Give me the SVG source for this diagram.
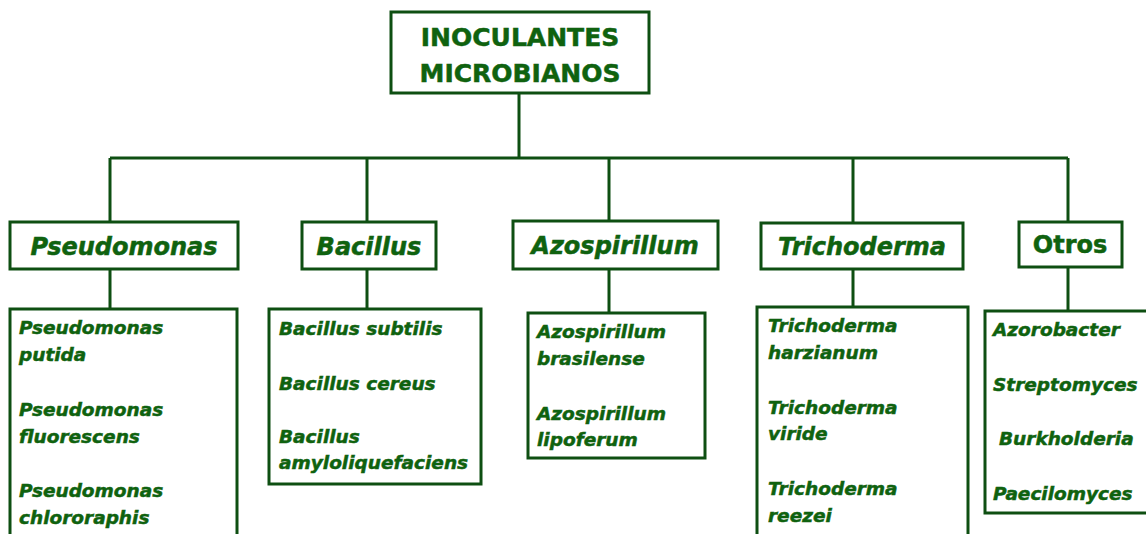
<svg xmlns="http://www.w3.org/2000/svg" width="1146" height="534" viewBox="0 0 1146 534">
<style>
.box{fill:#fff;stroke:#0e4f12;stroke-width:3}
.ln{fill:none;stroke:#0e4f12;stroke-width:3}
.t{font-family:"DejaVu Sans",sans-serif;font-weight:bold;fill:#0f620f;stroke:#0f620f;stroke-width:0.5}
.title{font-size:25px;text-anchor:middle}
.h{font-size:24px;font-style:italic;text-anchor:middle}
.i{font-size:18.5px;font-style:italic}
</style>
<rect width="1146" height="534" fill="#fff"/>
<g id="connectors">
<path class="ln" d="M519 93V158M110 158H1068M110 158V222M367 158V222M609 158V222M853 158V222M1068 158V222"/>
<path class="ln" d="M110 269V309M367 269V309M609 269V313M853 269V307M1068 267V311"/>
</g>
<g id="root">
<rect class="box" x="391" y="12" width="258" height="81"/>
<text class="t title" x="520" y="46">INOCULANTES</text>
<text class="t title" x="520" y="82">MICROBIANOS</text>
</g>
<g id="pseudomonas">
<rect class="box" x="10" y="222" width="228" height="47"/>
<text class="t h" x="124" y="255">Pseudomonas</text>
</g>
<g id="bacillus">
<rect class="box" x="302" y="222" width="134" height="47"/>
<text class="t h" x="369" y="255">Bacillus</text>
</g>
<g id="azospirillum">
<rect class="box" x="513" y="221" width="205" height="48"/>
<text class="t h" x="615" y="254">Azospirillum</text>
</g>
<g id="trichoderma">
<rect class="box" x="761" y="223" width="202" height="46"/>
<text class="t h" x="862" y="255">Trichoderma</text>
</g>
<g id="otros">
<rect class="box" x="1019" y="222" width="103" height="45"/>
<text class="t h" x="1070" y="253" style="font-style:normal">Otros</text>
</g>
<g id="pseudomonas-list">
<rect class="box" x="10" y="309" width="227" height="240"/>
<text class="t i" x="19" y="334">Pseudomonas</text>
<text class="t i" x="19" y="361">putida</text>
<text class="t i" x="19" y="416">Pseudomonas</text>
<text class="t i" x="19" y="443">fluorescens</text>
<text class="t i" x="19" y="497">Pseudomonas</text>
<text class="t i" x="19" y="524">chlororaphis</text>
</g>
<g id="bacillus-list">
<rect class="box" x="269" y="309" width="212" height="175"/>
<text class="t i" x="279" y="335">Bacillus subtilis</text>
<text class="t i" x="279" y="390">Bacillus cereus</text>
<text class="t i" x="279" y="443">Bacillus</text>
<text class="t i" x="279" y="469">amyloliquefaciens</text>
</g>
<g id="azospirillum-list">
<rect class="box" x="528" y="313" width="177" height="145"/>
<text class="t i" x="537" y="338">Azospirillum</text>
<text class="t i" x="537" y="365">brasilense</text>
<text class="t i" x="537" y="420">Azospirillum</text>
<text class="t i" x="537" y="446">lipoferum</text>
</g>
<g id="trichoderma-list">
<rect class="box" x="757" y="307" width="211" height="240"/>
<text class="t i" x="768" y="332">Trichoderma</text>
<text class="t i" x="768" y="359">harzianum</text>
<text class="t i" x="768" y="414">Trichoderma</text>
<text class="t i" x="768" y="440">viride</text>
<text class="t i" x="768" y="495">Trichoderma</text>
<text class="t i" x="768" y="522">reezei</text>
</g>
<g id="otros-list">
<rect class="box" x="985" y="311" width="170" height="202"/>
<text class="t i" x="993" y="336">Azorobacter</text>
<text class="t i" x="993" y="391">Streptomyces</text>
<text class="t i" x="999" y="445">Burkholderia</text>
<text class="t i" x="993" y="500">Paecilomyces</text>
</g>
</svg>
